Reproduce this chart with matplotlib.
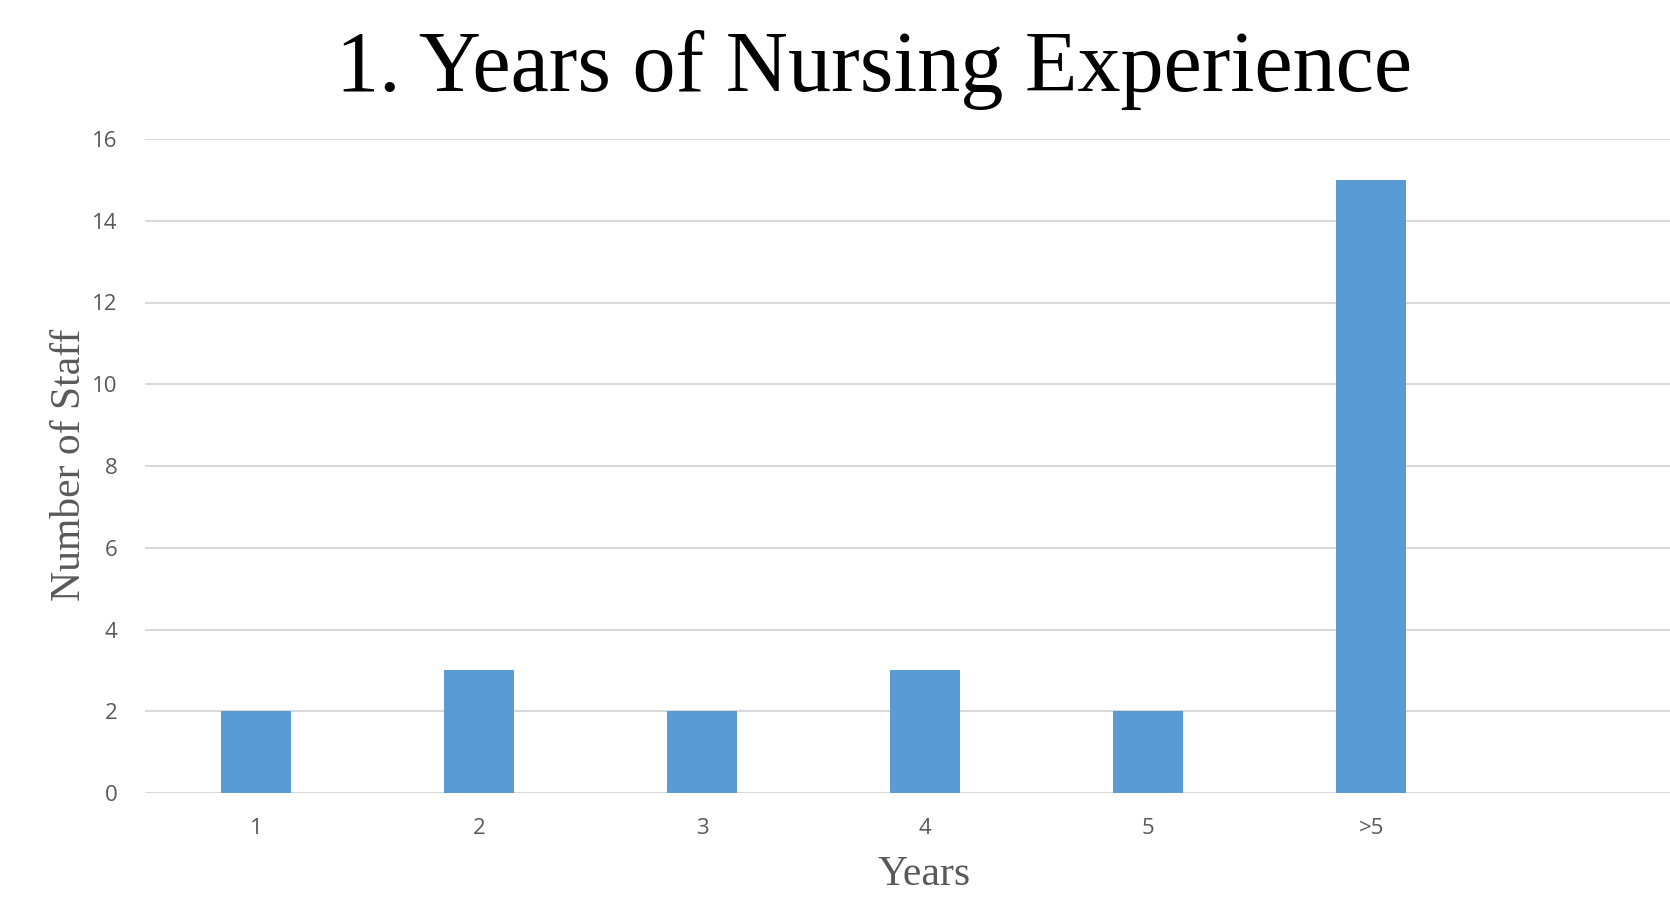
import matplotlib
matplotlib.use('Agg')
import numpy as np
import matplotlib.pyplot as plt

years = ['1', '2', '3', '4', '5', '>5']
staff = [2, 3, 2, 3, 2, 15]
y_ticks = [0, 2, 4, 6, 8, 10, 12, 14, 16]

grey = '#595959'
fig = plt.figure(figsize=(16.7, 9.02), dpi=100)
ax = fig.add_axes([145/1670, 1 - 793/902, 1 - 145/1670, (793 - 139)/902])

x = np.arange(len(years))
ax.bar(x, staff, width=0.314, color='#5B9BD5', zorder=3)

ax.set_xlim(-0.5, 6.34)
ax.set_ylim(0, 16)
ax.set_yticks(y_ticks)
ax.set_xticks(x)
ax.set_xticklabels(years)
ax.tick_params(axis='both', length=0, labelsize=16, labelcolor=grey)
ax.tick_params(axis='y', pad=20)
ax.tick_params(axis='x', pad=18)
for lab in ax.get_xticklabels() + ax.get_yticklabels():
    lab.set_family('Open Sans')

ax.grid(axis='y', color='#d9d9d9', linewidth=1.5, zorder=0)
for s in ax.spines.values():
    s.set_visible(False)

fig.text(874/1670, 1 - 91/902, '1. Years of Nursing Experience', family='Liberation Serif',
         fontsize=62, ha='center', va='baseline', color='black')
fig.text(70/1670, 1 - 465/902, 'Number of Staff', family='Liberation Serif', fontsize=30,
         rotation=90, ha='center', va='center', color=grey)
fig.text(924/1670, 1 - 875/902, 'Years', family='Liberation Serif', fontsize=30,
         ha='center', va='center', color=grey)

fig.savefig('out.png', dpi=100)
